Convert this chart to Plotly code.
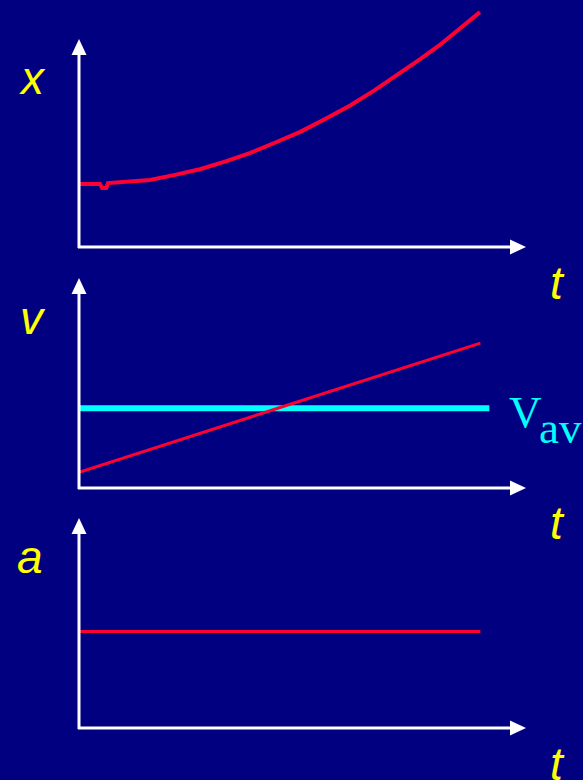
import plotly.graph_objects as go

W, H = 583, 780
BG = "#000080"
RED = "#ff0033"
CYAN = "#00ffff"
YELLOW = "#ffff00"

# ---- data ----
t_x = [0, 0.47, 0.52, 0.61, 0.65, 1.59, 2.15, 2.71, 3.27, 3.83, 4.39, 4.96, 5.52, 6.08,
       6.64, 7.2, 7.65, 8.09, 8.54, 8.99]
x_vals = [2.55, 2.55, 2.39, 2.39, 2.59, 2.71, 2.92, 3.15, 3.46, 3.8, 4.22, 4.66, 5.18, 5.73,
          6.36, 7.04, 7.61, 8.18, 8.83, 9.51]

t_v = [0, 9.0]
v_vals = [0.75, 6.9]
t_vav = [0, 9.2]
v_av = [3.8, 3.8]

t_a = [0, 9.0]
a_vals = [4.6, 4.6]

axis_labels = ["x", "v", "a"]
time_label = "t"

def X(px):
    return px / W

def Y(py):
    return 1 - py / H

# panel geometry (pixels): origin y, top y, arrow tip y
panels = [(247, 0, 39), (488, 278, 278), (728, 518, 518)]
x_left, x_right = 79, 525

fig = go.Figure()

fig.add_trace(go.Scatter(x=t_x, y=x_vals, mode="lines", line=dict(color=RED, width=4),
                         xaxis="x", yaxis="y", showlegend=False, hoverinfo="skip"))
fig.add_trace(go.Scatter(x=t_vav, y=v_av, mode="lines", line=dict(color=CYAN, width=6),
                         xaxis="x2", yaxis="y2", showlegend=False, hoverinfo="skip"))
fig.add_trace(go.Scatter(x=t_v, y=v_vals, mode="lines", line=dict(color=RED, width=3),
                         xaxis="x2", yaxis="y2", showlegend=False, hoverinfo="skip"))
fig.add_trace(go.Scatter(x=t_a, y=a_vals, mode="lines", line=dict(color=RED, width=3),
                         xaxis="x3", yaxis="y3", showlegend=False, hoverinfo="skip"))

layout = dict(width=W, height=H, margin=dict(l=0, r=0, t=0, b=0),
              paper_bgcolor=BG, plot_bgcolor=BG, showlegend=False)
for i, (yb, yt, tip) in enumerate(panels):
    sfx = "" if i == 0 else str(i + 1)
    layout["xaxis" + sfx] = dict(domain=[X(x_left), X(x_right)], range=[0, 10], visible=False,
                                 anchor="y" + sfx)
    height_px = yb - yt
    layout["yaxis" + sfx] = dict(domain=[Y(yb), Y(yt)], range=[0, height_px / (24.7 if i == 0 else 21)],
                                 visible=False, anchor="x" + sfx)
fig.update_layout(**layout)

shapes = []
for (yb, yt, tip) in panels:
    shapes.append(dict(type="line", xref="paper", yref="paper", x0=X(79), y0=Y(yb + 1), x1=X(79), y1=Y(tip + 14),
                       line=dict(color="white", width=3)))
    shapes.append(dict(type="path", xref="paper", yref="paper",
                       path=f"M {X(79)},{Y(tip)} L {X(71.5)},{Y(tip + 16)} L {X(86.5)},{Y(tip + 16)} Z",
                       fillcolor="white", line=dict(color="white", width=0)))
    shapes.append(dict(type="line", xref="paper", yref="paper", x0=X(78), y0=Y(yb), x1=X(512), y1=Y(yb),
                       line=dict(color="white", width=3)))
    shapes.append(dict(type="path", xref="paper", yref="paper",
                       path=f"M {X(526)},{Y(yb)} L {X(510)},{Y(yb - 7.5)} L {X(510)},{Y(yb + 7.5)} Z",
                       fillcolor="white", line=dict(color="white", width=0)))
fig.update_layout(shapes=shapes)

ann = []
label_pos = [(32, 78), (33, 318), (30, 557)]
for lab, (px, py) in zip(axis_labels, label_pos):
    ann.append(dict(text=f"<i>{lab}</i>", x=X(px), y=Y(py), xref="paper", yref="paper",
                    xanchor="center", yanchor="middle", showarrow=False,
                    font=dict(family="Liberation Sans, Arial", size=46, color=YELLOW)))
for py in [283, 523, 764]:
    ann.append(dict(text=f"<i>{time_label}</i>", x=X(557), y=Y(py), xref="paper", yref="paper",
                    xanchor="center", yanchor="middle", showarrow=False,
                    font=dict(family="Liberation Sans, Arial", size=46, color=YELLOW)))
ann.append(dict(text="V", x=X(525), y=Y(412), xref="paper", yref="paper",
                xanchor="center", yanchor="middle", showarrow=False,
                font=dict(family="Liberation Serif, Times New Roman", size=45, color=CYAN)))
ann.append(dict(text="av", x=X(560), y=Y(428), xref="paper", yref="paper",
                xanchor="center", yanchor="middle", showarrow=False,
                font=dict(family="Liberation Serif, Times New Roman", size=45, color=CYAN)))
fig.update_layout(annotations=ann)

fig.write_html("out.html", config={"displayModeBar": False, "staticPlot": True},
               post_script="document.body.style.margin='0';document.body.style.padding='0';"
                           "document.documentElement.style.overflow='hidden';")
